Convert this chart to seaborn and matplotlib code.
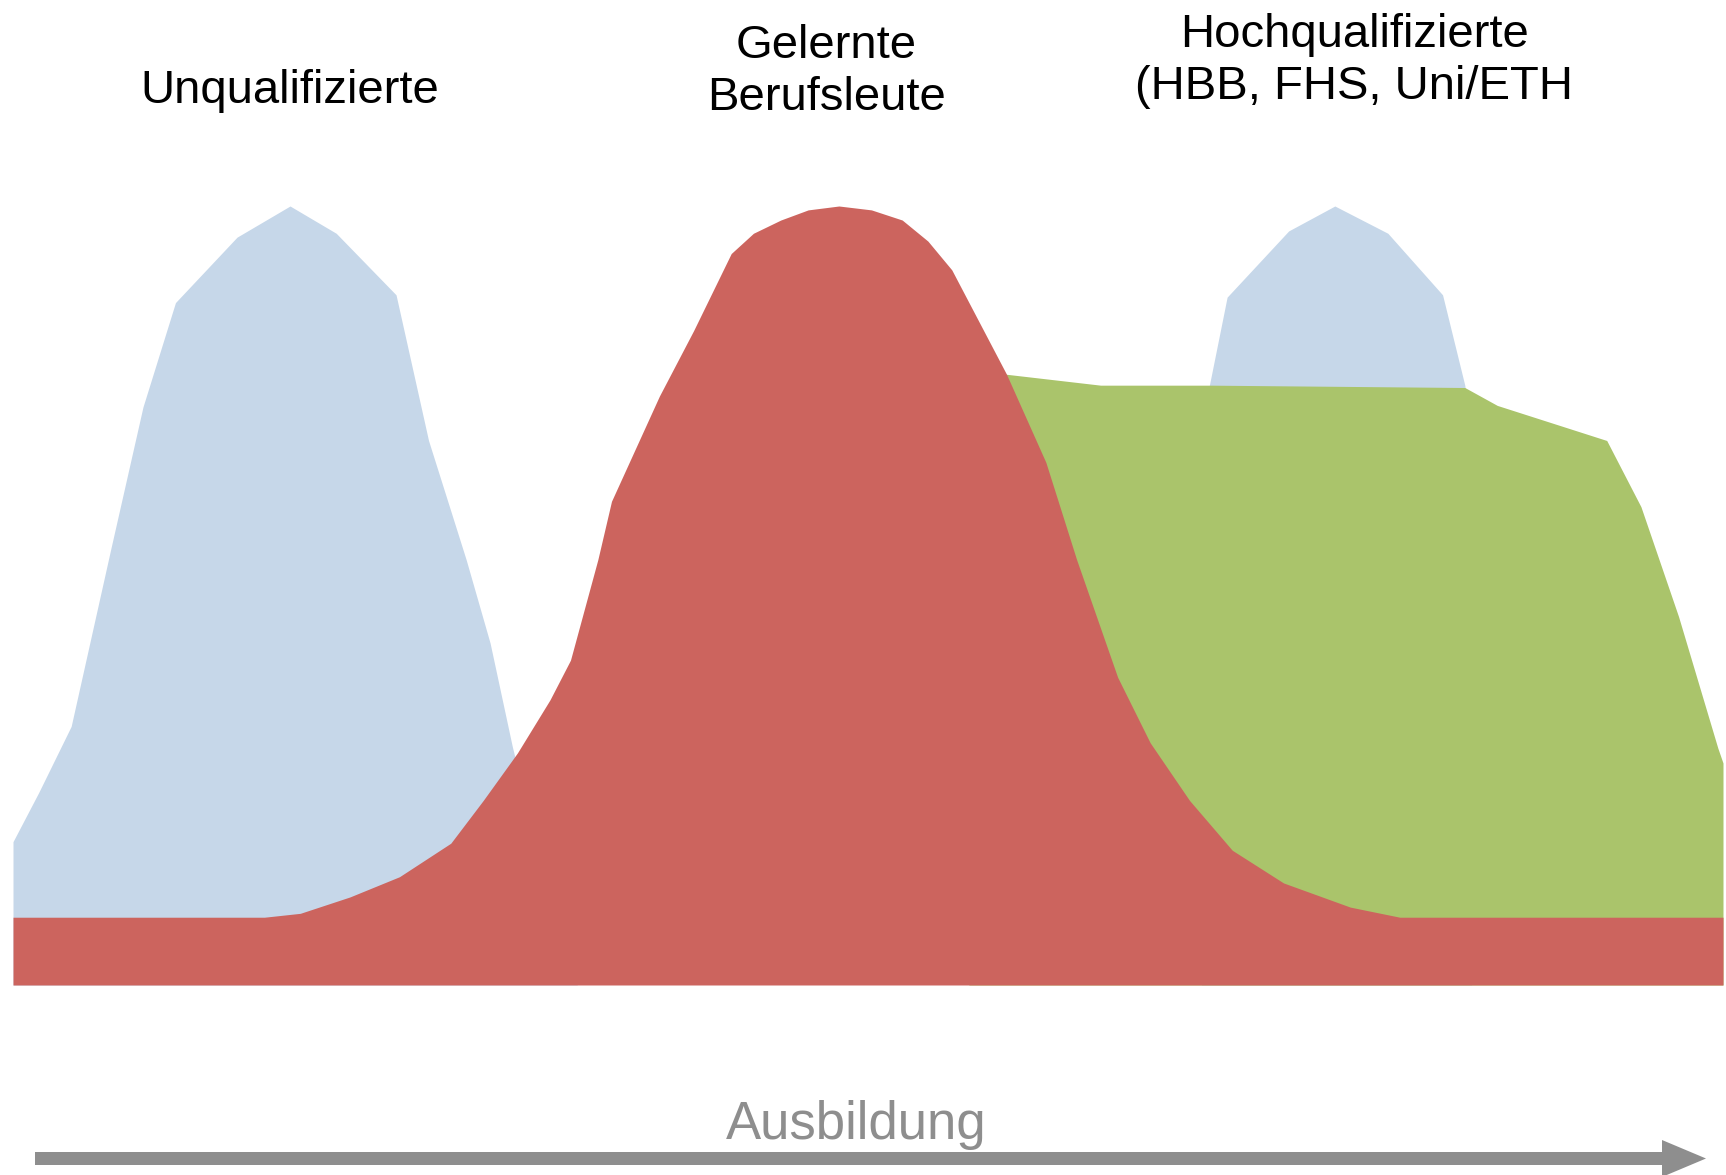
import numpy as np
import matplotlib
matplotlib.use("Agg")
import matplotlib.pyplot as plt
from matplotlib.patches import Polygon
import seaborn as sns

sns.set_theme(style="white")
plt.rcParams["font.family"] = ["Liberation Sans", "DejaVu Sans"]

# Ausbildung (0-100) vs. relative height (0-100)
# blue: Unqualifizierte (left hump)
blue_left_x = [0, 1.5, 3.4, 5.7, 7.6, 9.5, 13.1, 16.2, 18.9, 22.4, 24.3, 26.5, 27.9, 29.2, 30.5, 32.0, 33.0]
blue_left_y = [18.4, 24.7, 33.2, 55.8, 74.2, 87.6, 96.0, 100, 96.5, 88.6, 69.9, 54.6, 43.9, 30.6, 19.0, 8.0, 0]

# blue: hump above the Hochqualifizierte plateau
blue_right_x = [69.5, 69.9, 71.0, 74.6, 77.3, 80.4, 83.6, 84.9, 85.3]
blue_right_y = [70, 76.3, 88.3, 96.8, 100, 96.5, 88.6, 77.0, 70]

# green: Hochqualifizierte
green_x = [55.9, 58.1, 63.6, 70.1, 84.9, 86.8, 93.2, 95.2, 97.4, 99.7, 100]
green_y = [78.4, 78.4, 77.0, 77.0, 76.7, 74.4, 69.9, 61.4, 47.3, 30.4, 28.5]

# red: Gelernte Berufsleute (base band + bell)
red_x = [0, 14.7, 16.8, 19.7, 22.6, 25.6, 27.5, 29.5, 31.4, 32.6, 34.2, 35.0, 37.8, 39.8,
         42.0, 43.3, 44.9, 46.5, 48.3, 50.2, 52.0, 53.5, 54.9, 58.1, 60.4, 62.2, 64.6,
         66.5, 68.8, 71.3, 74.3, 78.2, 81.1, 100]
red_y = [8.7, 8.7, 9.2, 11.3, 13.9, 18.2, 23.7, 29.8, 36.6, 41.7, 54.6, 62.1, 75.6, 84.0,
         93.9, 96.5, 98.2, 99.5, 100, 99.5, 98.2, 95.5, 91.8, 78.4, 67.1, 54.6, 39.5,
         31.1, 23.7, 17.3, 13.1, 10.0, 8.7, 8.7]

labels = ["Unqualifizierte", "Gelernte\nBerufsleute", "Hochqualifizierte\n(HBB, FHS, Uni/ETH"]
axis_label = "Ausbildung"

c_blue = "#C6D7E9"
c_green = "#AAC46B"
c_red = "#CC645E"

W, H = 1726, 1175
fig = plt.figure(figsize=(W / 100, H / 100), dpi=100)
fig.patch.set_facecolor("white")

# chart area
ax = fig.add_axes([13 / W, (H - 985) / H, 1710 / W, 779 * 1.05 / H])
ax.set_xlim(0, 100)
ax.set_ylim(0, 105)
ax.axis("off")

ax.fill_between(blue_left_x, 0, blue_left_y, color=c_blue, lw=0, zorder=1)
ax.fill_between(blue_right_x, 0, blue_right_y, color=c_blue, lw=0, zorder=1)
ax.fill_between(green_x, 0, green_y, color=c_green, lw=0, zorder=2)
ax.fill_between(red_x, 0, red_y, color=c_red, lw=0, zorder=3)

# overlay in pixel units for labels and arrow
ov = fig.add_axes([0, 0, 1, 1], facecolor="none")
ov.set_xlim(0, W)
ov.set_ylim(H, 0)
ov.axis("off")

ov.text(290, 91, labels[0], ha="center", va="center", fontsize=34, color="black")
ov.text(826, 72, labels[1], ha="center", va="center", fontsize=34, color="black", linespacing=1.26)
ov.text(1354, 61, labels[2], ha="center", va="center", fontsize=34, color="black", linespacing=1.26)
ov.text(856, 1125, axis_label, ha="center", va="center", fontsize=38, color="#8E8E8E")

arrow = Polygon([(35, 1152), (1662, 1152), (1662, 1140), (1706, 1158.5),
                 (1662, 1177), (1662, 1165), (35, 1165)],
                closed=True, color="#8E8E8E", lw=0)
ov.add_patch(arrow)

fig.savefig("out.png", dpi=100, facecolor="white")
